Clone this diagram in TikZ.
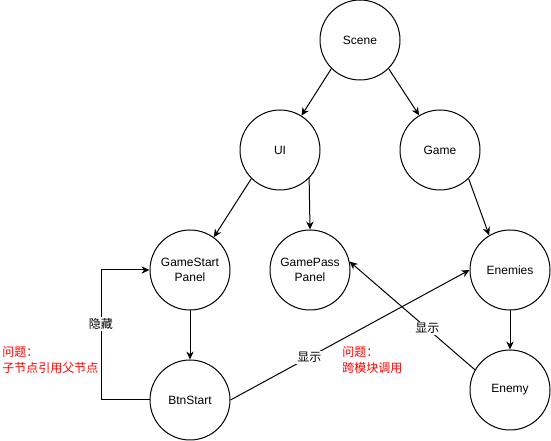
\documentclass[tikz,border=0pt]{standalone}
\usepackage{fontspec}
\setmainfont{Liberation Sans}
\newfontfamily\cjk{Noto Sans CJK SC}
\usetikzlibrary{arrows.meta}
\tikzset{
  circ/.style={circle,draw,line width=0.75pt,minimum size=60pt,inner sep=0pt,align=center,font=\fontsize{9}{11}\selectfont},
  arr/.style={line width=0.75pt,-{Stealth[length=6pt,width=5.5pt]}},
  elabel/.style={fill=white,inner sep=1pt,font=\cjk\fontsize{9}{11}\selectfont},
  redtext/.style={text=red,align=left,font=\cjk\fontsize{9}{12}\selectfont,inner sep=0pt,anchor=west}
}
\begin{document}
\begin{tikzpicture}[x=0.75pt,y=-0.75pt]
\useasboundingbox (0,0) rectangle (551,441);
\node[circ] (scene) at (360,40) {Scene};
\node[circ] (ui) at (280,150) {UI};
\node[circ] (game) at (440,150) {Game};
\node[circ] (gsp) at (190,270) {GameStart\\Panel};
\node[circ] (gpp) at (310,270) {GamePass\\Panel};
\node[circ] (enemies) at (510,270) {Enemies};
\node[circ] (btn) at (190,400) {BtnStart};
\node[circ] (enemy) at (510,390) {Enemy};
\coordinate (c1) at (101,400);
\coordinate (c2) at (101,270);

\draw[arr] (scene.225) -- (ui.58);
\draw[arr] (scene.-45) -- (game.121);
\draw[arr] (ui.225) -- (gsp.54);
\draw[arr] (ui.-44) -- (gpp.north);
\draw[arr] (game.-45) -- (enemies.121);
\draw[arr] (gsp) -- (btn);
\draw[arr] (enemies) -- (enemy);
\draw[arr] (btn.west) -- (c1) -- (c2) -- (gsp.west);
\node[elabel] (l1) at (101,324) {隐藏};
\draw[arr] (btn.east) -- (enemies.west) node[elabel,pos=0.33] (l2) {显示};
\draw[arr] (enemy.150) -- (gpp.12) node[elabel,pos=0.38] (l3) {显示};
\node[redtext] (r1) at (2,360) {问题：\\子节点引用父节点};
\node[redtext] (r2) at (342,360) {问题：\\跨模块调用};
\end{tikzpicture}
\end{document}
